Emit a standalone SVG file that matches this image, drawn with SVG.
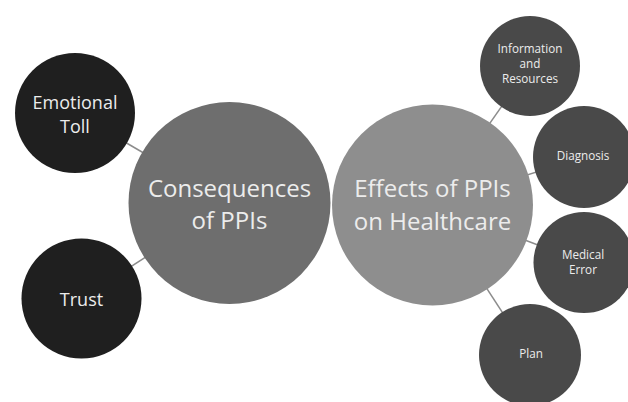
<svg xmlns="http://www.w3.org/2000/svg" width="628" height="402" viewBox="0 0 628 402">
<style>
.bg{fill:#ffffff}
.link{stroke:#8c8c8c;stroke-width:1.5;fill:none}
.dark{fill:#1f1f1f}
.mid{fill:#494949}
.cons{fill:#6e6e6e}
.eff{fill:#8e8e8e}
text{font-family:"Open Sans","Liberation Sans",sans-serif;fill:#ececec;text-anchor:middle}
.big{font-size:24px}
.med{font-size:18px}
.sm{font-size:11.7px}
</style>
<rect class="bg" width="628" height="402"/>
<g id="connectors">
<line class="link" x1="75" y1="113" x2="229.5" y2="203"/>
<line class="link" x1="81.5" y1="298.5" x2="229.5" y2="203"/>
<line class="link" x1="530" y1="66" x2="432.5" y2="205"/>
<line class="link" x1="584" y1="157" x2="432.5" y2="205"/>
<line class="link" x1="584" y1="262.5" x2="432.5" y2="205"/>
<line class="link" x1="530" y1="355" x2="432.5" y2="205"/>
</g>
<g id="consequences">
<circle class="cons" cx="229.5" cy="203" r="101"/>
<text class="big" x="229.5" y="197">Consequences</text>
<text class="big" x="229.5" y="229">of PPIs</text>
</g>
<g id="effects">
<circle class="eff" cx="432.5" cy="205" r="100.5"/>
<text class="big" x="432.5" y="197">Effects of PPIs</text>
<text class="big" x="432.5" y="230">on Healthcare</text>
</g>
<g id="emotional-toll">
<circle class="dark" cx="75" cy="113" r="60"/>
<text class="med" x="75" y="109">Emotional</text>
<text class="med" x="75" y="133">Toll</text>
</g>
<g id="trust">
<circle class="dark" cx="81.5" cy="298.5" r="60"/>
<text class="med" x="81.5" y="306">Trust</text>
</g>
<g id="information">
<circle class="mid" cx="530" cy="66" r="50"/>
<text class="sm" x="530" y="53">Information</text>
<text class="sm" x="530" y="68">and</text>
<text class="sm" x="530" y="83">Resources</text>
</g>
<g id="diagnosis">
<circle class="mid" cx="584" cy="157" r="51"/>
<text class="sm" x="583" y="160">Diagnosis</text>
</g>
<g id="medical-error">
<circle class="mid" cx="584" cy="262.5" r="50.5"/>
<text class="sm" x="583" y="259">Medical</text>
<text class="sm" x="583" y="274">Error</text>
</g>
<g id="plan">
<circle class="mid" cx="530" cy="355" r="51"/>
<text class="sm" x="531" y="358">Plan</text>
</g>
</svg>
